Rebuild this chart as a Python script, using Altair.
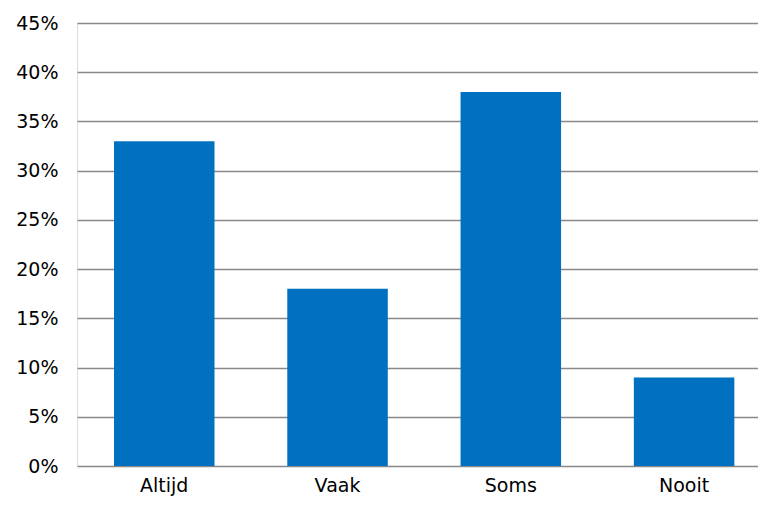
import altair as alt
import pandas as pd

categories = ["Altijd", "Vaak", "Soms", "Nooit"]
values = [0.33, 0.18, 0.38, 0.09]
y_ticks = [0, 0.05, 0.10, 0.15, 0.20, 0.25, 0.30, 0.35, 0.40, 0.45]

df = pd.DataFrame({"cat": categories, "val": values})

FONT = "DejaVu Sans"

chart = alt.Chart(df).mark_bar(color="#0070C0").encode(
    x=alt.X("cat:N", sort=categories, title=None,
            scale=alt.Scale(paddingInner=0.42, paddingOuter=0.175, align=0.61),
            axis=alt.Axis(labelAngle=0, domain=False, ticks=False, labelPadding=10,
                          labelFontSize=19, labelFont=FONT, labelColor="#000000")),
    y=alt.Y("val:Q", title=None,
            scale=alt.Scale(domain=[0, 0.45], nice=False),
            axis=alt.Axis(values=y_ticks, format=".0%", domain=False, ticks=False,
                          labelPadding=19, labelFontSize=19, labelFont=FONT,
                          labelColor="#000000", gridColor="#888888", gridWidth=1.3,
                          gridOpacity=1)),
).properties(
    width=681, height=443,
    autosize=alt.AutoSizeParams(type="none"),
    padding={"left": 69, "top": 15, "right": 0, "bottom": 33},
).configure_view(stroke=None).configure(background="#ffffff")

chart.save("out.html", embed_options={"renderer": "svg", "actions": False})
